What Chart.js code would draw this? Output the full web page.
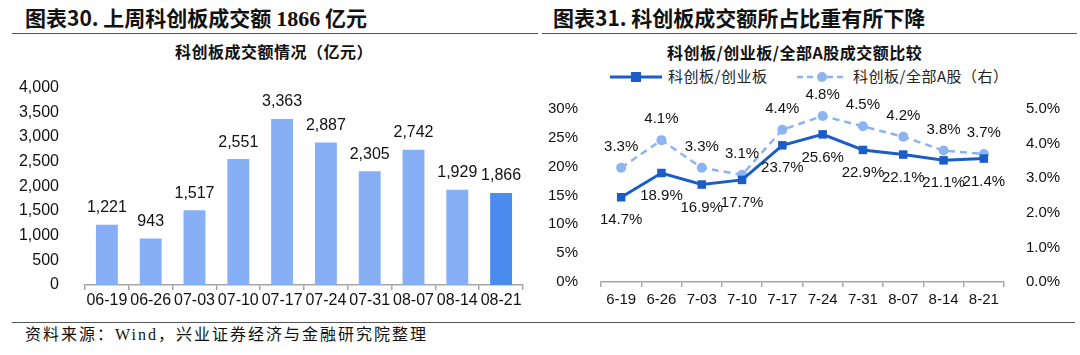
<!DOCTYPE html>
<html>
<head>
<meta charset="utf-8">
<script src="https://cdn.jsdelivr.net/npm/chart.js@4"></script>
<style>
html,body{margin:0;padding:0;background:#fff;width:1080px;height:355px;overflow:hidden;position:relative;}
.abs{position:absolute;}
.title{font-family:"Noto Sans CJK SC","Liberation Sans",sans-serif;font-weight:bold;font-size:21px;color:#111;white-space:nowrap;line-height:1;}
.title .num{font-family:"Liberation Serif",serif;font-size:22px;}
.sub{font-family:"Noto Sans CJK SC",sans-serif;font-weight:bold;font-size:16px;color:#111;white-space:nowrap;line-height:1;letter-spacing:0.5px;}
.hr{height:0;border-top:1.5px solid #555;}
.leg{font-family:"Noto Sans CJK SC",sans-serif;font-size:15px;color:#222;white-space:nowrap;line-height:1;letter-spacing:0.5px;}
.foot{font-family:"Liberation Serif","Noto Sans CJK SC",serif;font-size:16px;color:#111;white-space:nowrap;line-height:1;letter-spacing:2px;}
</style>
</head>
<body>
<div class="abs title" style="left:25px;top:7px;">图表30. 上周科创板成交额 <span class="num">1866</span> 亿元</div>
<div class="abs title" style="left:553px;top:7px;">图表31. 科创板成交额所占比重有所下降</div>
<div class="abs hr" style="left:12px;top:33px;width:526px;"></div>
<div class="abs hr" style="left:542px;top:33px;width:535px;"></div>
<div class="abs sub" style="left:175px;top:43px;">科创板成交额情况（亿元）</div>
<div class="abs sub" style="left:667px;top:44px;">科创板/创业板/全部A股成交额比较</div>

<svg class="abs" style="left:600px;top:68px;" width="260" height="18">
  <line x1="10" y1="9" x2="62" y2="9" stroke="#1A5DC9" stroke-width="3"/>
  <rect x="31" y="4" width="10" height="10" fill="#1A5DC9"/>
</svg>
<div class="abs leg" style="left:668px;top:68px;">科创板/创业板</div>
<svg class="abs" style="left:790px;top:68px;" width="70" height="18">
  <line x1="7" y1="9" x2="57" y2="9" stroke="#8CB4F2" stroke-width="2.5" stroke-dasharray="6,4"/>
  <circle cx="32" cy="9" r="5" fill="#8CB4F2"/>
</svg>
<div class="abs leg" style="left:853px;top:68px;">科创板/全部A股（右）</div>

<div class="abs" style="left:0;top:60px;width:540px;height:255px;"><canvas id="c1"></canvas></div>
<div class="abs" style="left:540px;top:85px;width:540px;height:230px;"><canvas id="c2"></canvas></div>

<div class="abs hr" style="left:12px;top:322px;width:1063px;"></div>
<div class="abs foot" style="left:25px;top:327px;">资料来源：Wind，兴业证券经济与金融研究院整理</div>

<script>
// ---- data ----
const barCategories = ['06-19','06-26','07-03','07-10','07-17','07-24','07-31','08-07','08-14','08-21'];
const barValues = [1221, 943, 1517, 2551, 3363, 2887, 2305, 2742, 1929, 1866];
const lineCategories = ['6-19','6-26','7-03','7-10','7-17','7-24','7-31','8-07','8-14','8-21'];
const ratioVsChiNext = [14.7, 18.9, 16.9, 17.7, 23.7, 25.6, 22.9, 22.1, 21.1, 21.4];
const ratioVsAllA = [3.3, 4.1, 3.3, 3.1, 4.4, 4.8, 4.5, 4.2, 3.8, 3.7];
const seriesNames = ['科创板/创业板', '科创板/全部A股（右）'];

const FONT = '"Liberation Sans", Arial, sans-serif';
Chart.defaults.font.family = FONT;
Chart.defaults.font.size = 15;
Chart.defaults.color = '#111';
Chart.defaults.animation = false;

// simple inline data label plugin
const labelPlugin = {
  id: 'vlabels',
  afterDatasetsDraw(chart) {
    const ctx = chart.ctx;
    chart.data.datasets.forEach((ds, i) => {
      const cfg = ds.vlabel;
      if (!cfg) return;
      const meta = chart.getDatasetMeta(i);
      meta.data.forEach((el, j) => {
        ctx.save();
        ctx.font = cfg.size + 'px ' + FONT;
        ctx.fillStyle = '#111';
        ctx.textAlign = 'center';
        ctx.textBaseline = 'middle';
        ctx.fillText(cfg.fmt(ds.data[j]), el.x, el.y + cfg.dy);
        ctx.restore();
      });
    });
  }
};

const axisColor = '#A6A6A6';

new Chart(document.getElementById('c1'), {
  type: 'bar',
  data: {
    labels: barCategories,
    datasets: [{
      data: barValues,
      backgroundColor: barValues.map((v, i) => i === barValues.length - 1 ? '#4A8BEF' : '#87AFF5'),
      categoryPercentage: 1,
      barPercentage: 0.5,
      vlabel: { dy: -17, size: 16, fmt: v => v.toLocaleString('en-US') }
    }]
  },
  options: {
    responsive: true,
    maintainAspectRatio: false,
    layout: { padding: { left: 0, right: 17, top: 23, bottom: 0 } },
    plugins: { legend: { display: false }, tooltip: { enabled: false } },
    scales: {
      x: {
        offset: true,
        grid: { display: true, drawOnChartArea: false, drawTicks: true, tickLength: 5, offset: true, color: axisColor, lineWidth: 1.5 },
        border: { display: true, color: axisColor, width: 1.5 },
        ticks: { padding: 1, color: '#111', maxRotation: 0, autoSkip: false, font: { size: 16 } },
        afterFit(s) { s.height = 30; }
      },
      y: {
        min: 0, max: 4000,
        grid: { display: false },
        border: { display: false },
        ticks: { stepSize: 500, padding: 18, color: '#111', font: { size: 16 }, callback: v => v.toLocaleString('en-US') },
        afterFit(s) { s.width = 85; }
      }
    }
  },
  plugins: [labelPlugin]
});

new Chart(document.getElementById('c2'), {
  type: 'line',
  data: {
    labels: lineCategories,
    datasets: [{
      label: seriesNames[0],
      data: ratioVsChiNext,
      yAxisID: 'y',
      borderColor: '#1A5DC9',
      backgroundColor: '#1A5DC9',
      borderWidth: 3,
      pointStyle: 'rect',
      pointRadius: 6,
      pointBorderWidth: 0,
      tension: 0,
      vlabel: { dy: 23, size: 15, fmt: v => v.toFixed(1) + '%' }
    }, {
      label: seriesNames[1],
      data: ratioVsAllA,
      yAxisID: 'y1',
      borderColor: '#8CB4F2',
      backgroundColor: '#8CB4F2',
      borderWidth: 2.5,
      borderDash: [7, 5],
      pointStyle: 'circle',
      pointRadius: 5,
      pointBorderWidth: 0,
      tension: 0,
      vlabel: { dy: -21, size: 15, fmt: v => v.toFixed(1) + '%' }
    }]
  },
  options: {
    responsive: true,
    maintainAspectRatio: false,
    layout: { padding: { left: 0, right: 0, top: 11, bottom: 0 } },
    plugins: { legend: { display: false }, tooltip: { enabled: false } },
    scales: {
      x: {
        offset: true,
        grid: { display: true, drawOnChartArea: false, drawTicks: true, tickLength: 5, offset: true, color: axisColor, lineWidth: 1.5 },
        border: { display: true, color: axisColor, width: 1.5 },
        ticks: { padding: 4, color: '#111', maxRotation: 0, autoSkip: false },
        afterFit(s) { s.height = 33; }
      },
      y: {
        position: 'left',
        min: 0, max: 30,
        grid: { display: false },
        border: { display: false },
        ticks: { stepSize: 5, padding: 15, color: '#111', callback: v => v + '%' },
        afterFit(s) { s.width = 61; }
      },
      y1: {
        position: 'right',
        min: 0, max: 5,
        grid: { display: false },
        border: { display: false },
        ticks: { stepSize: 1, padding: 14, color: '#111', callback: v => v.toFixed(1) + '%' },
        afterFit(s) { s.width = 76; }
      }
    }
  },
  plugins: [labelPlugin]
});
</script>
</body>
</html>
